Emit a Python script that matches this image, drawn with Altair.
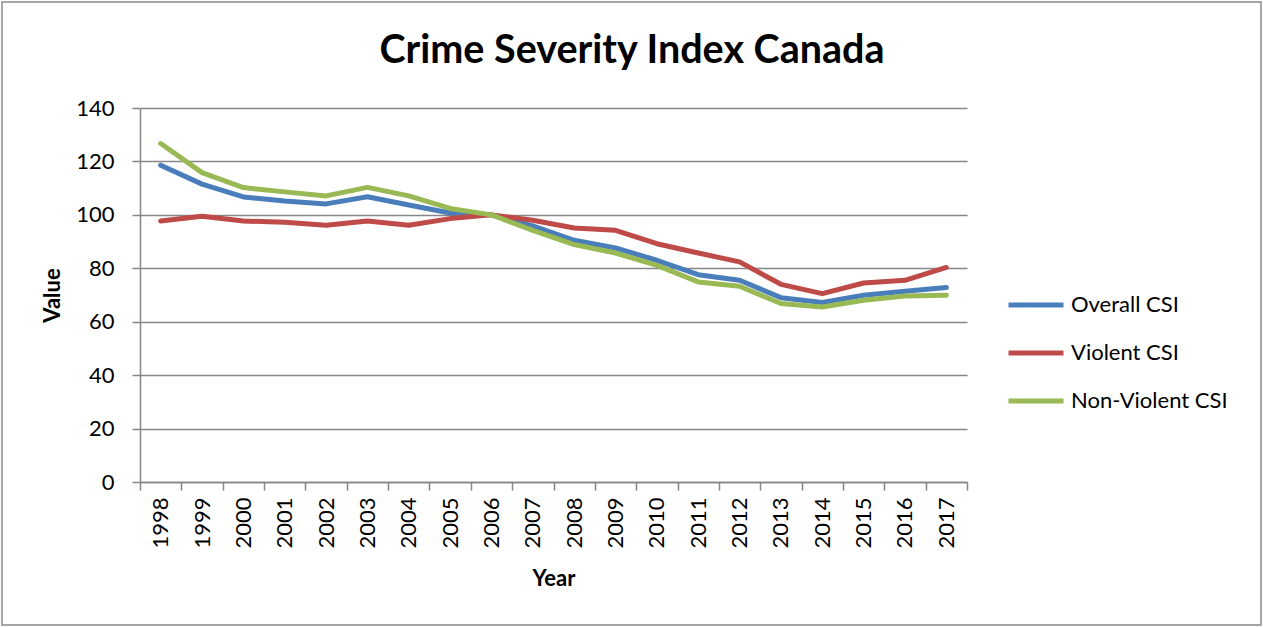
import altair as alt
import pandas as pd

years = ["1998", "1999", "2000", "2001", "2002", "2003", "2004", "2005", "2006", "2007",
         "2008", "2009", "2010", "2011", "2012", "2013", "2014", "2015", "2016", "2017"]
overall = [118.6, 111.5, 106.7, 105.2, 104.1, 106.8, 103.7, 100.7, 100.0, 95.9,
           90.5, 87.6, 83.0, 77.6, 75.5, 69.0, 67.2, 69.9, 71.4, 72.8]
violent = [97.7, 99.5, 97.7, 97.2, 96.1, 97.7, 96.1, 98.6, 100.0, 98.0,
           95.1, 94.2, 89.2, 85.7, 82.4, 74.0, 70.5, 74.5, 75.5, 80.3]
nonviolent = [126.7, 115.8, 110.2, 108.6, 107.1, 110.3, 107.1, 102.4, 100.0, 94.2,
              88.9, 85.7, 81.1, 74.9, 73.3, 66.8, 65.5, 68.0, 69.6, 69.9]
series_names = ["Overall CSI", "Violent CSI", "Non-Violent CSI"]
series_colors = ["#4A7EBB", "#BE4B48", "#98B954"]
title_text = "Crime Severity Index Canada"

rows = []
for name, vals in zip(series_names, [overall, violent, nonviolent]):
    for y, v in zip(years, vals):
        rows.append({"Year": y, "Value": v, "Series": name})
df = pd.DataFrame(rows)

FONT = "Lato"

lines = alt.Chart(df).mark_line(strokeWidth=5, strokeCap="round", strokeJoin="round").encode(
    x=alt.X("Year:O", sort=years,
            scale=alt.Scale(paddingInner=0, paddingOuter=0),
            axis=alt.Axis(title="Year", labelAngle=-90, labelAlign="right", labelBaseline="middle",
                          tickBand="extent", tickSize=8, labelPadding=7, titlePadding=20,
                          grid=False)),
    y=alt.Y("Value:Q", scale=alt.Scale(domain=[0, 140], nice=False),
            axis=alt.Axis(title="Value", values=[0, 20, 40, 60, 80, 100, 120, 140],
                          tickSize=8, labelPadding=18, titlePadding=11, grid=True)),
    color=alt.Color("Series:N", sort=series_names,
                    scale=alt.Scale(domain=series_names, range=series_colors),
                    legend=alt.Legend(title=None, orient="none", legendX=866, legendY=167,
                                      symbolType="stroke", symbolSize=3025, symbolStrokeWidth=5,
                                      rowPadding=7, labelOffset=5, padding=0,
                                      labelFont=FONT, labelFontSize=22, labelColor="#000000",
                                      labelLimit=300)),
)

border = alt.Chart(alt.Data(values=[{}])).mark_rect(
    fill=None, stroke="#898989", strokeWidth=1.5, clip=False
).encode(
    x=alt.value(-138), x2=alt.value(1121), y=alt.value(-106), y2=alt.value(517)
)

title = alt.Chart(alt.Data(values=[{}])).mark_text(
    font=FONT, fontSize=39.5, fontWeight="bold", color="#000000",
    align="center", baseline="alphabetic", clip=False
).encode(
    x=alt.value(492), y=alt.value(-45), text=alt.value(title_text)
)

chart = alt.layer(border, title, lines).properties(
    width=827, height=374,
    autosize=alt.AutoSizeParams(type="none"),
    padding={"left": 140, "top": 108, "right": 296, "bottom": 145},
    background="white",
).configure_view(strokeWidth=0).configure_axis(
    labelFont=FONT, labelFontSize=22, labelColor="#000000",
    titleFont=FONT, titleFontSize=22, titleFontWeight="bold", titleColor="#000000",
    domainColor="#868686", domainWidth=1.5, tickColor="#868686", tickWidth=1.5,
    gridColor="#868686", gridWidth=1.5,
)

chart.save("out.html", embed_options={"renderer": "svg", "actions": False})
